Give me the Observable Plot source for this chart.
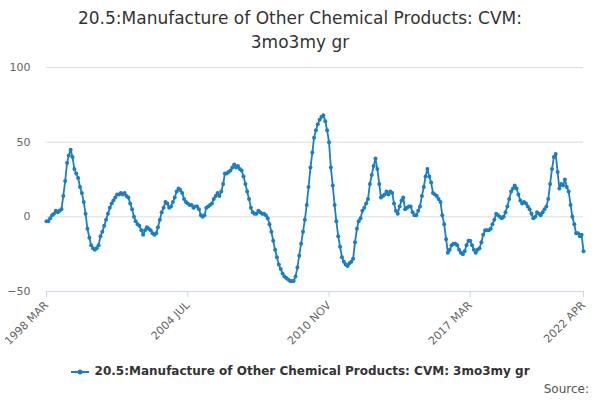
<!DOCTYPE html>
<html><head><meta charset="utf-8">
<script src="https://cdn.jsdelivr.net/npm/d3@7"></script>
<script src="https://cdn.jsdelivr.net/npm/@observablehq/plot@0.6"></script>
<style>
body{margin:0;width:600px;height:400px;position:relative;font-family:"DejaVu Sans",sans-serif;background:#fff;overflow:hidden}
#title{position:absolute;top:6px;left:0;width:600px;text-align:center;font-size:17px;line-height:24px;color:#333}
#chart{position:absolute;top:55px;left:0}
#legend{position:absolute;top:364px;left:0;width:600px;text-align:center;font-size:12px;font-weight:bold;color:#333}
#source{position:absolute;top:382px;right:11px;font-size:12px;color:#555}
</style></head><body>
<div id="title">20.5:Manufacture of Other Chemical Products: CVM:<br>3mo3my gr</div>
<div id="chart"></div>
<div id="legend"><svg width="20" height="10" style="vertical-align:middle"><line x1="1" x2="19" y1="5" y2="5" stroke="#1a7ec0" stroke-width="2"/><circle cx="10" cy="5" r="2.5" fill="#1a7ec0"/></svg> 20.5:Manufacture of Other Chemical Products: CVM: 3mo3my gr</div>
<div id="source">Source:</div>
<script>
const startYear = 1998, startMonth = 2; // March (0-based)
const values = [
-3,-3,-1,1,2,4,3,4,5,14,24,36,
41,45,40,32,29,26,20,16,10,2,-8,-14,
-19,-21,-22,-21,-19,-13,-10,-6,-2,2,6,9,
11,13,15,15,16,15,16,14,13,9,5,0,
-3,-5,-6,-9,-12,-9,-7,-8,-9,-11,-12,-11,
-7,-2,3,6,10,9,6,7,10,13,17,19,
18,16,12,10,9,8,8,6,7,7,5,1,
0,1,6,7,8,9,12,14,16,14,17,22,
29,29,30,31,33,35,33,34,32,31,27,22,
17,12,6,3,2,2,4,3,2,2,1,-1,
-5,-10,-16,-22,-27,-32,-35,-38,-40,-41,-42,-43,
-43,-43,-40,-34,-26,-18,-10,-2,8,20,33,43,
53,58,62,65,67,68,64,58,50,33,21,8,
-3,-13,-20,-27,-30,-32,-33,-31,-30,-28,-17,-8,
-3,-1,4,6,9,12,22,28,34,39,32,22,
13,14,15,17,15,17,16,9,4,2,7,11,
13,5,6,7,7,3,1,1,4,7,14,20,
27,32,27,23,16,15,14,12,10,1,-5,-15,
-24,-22,-19,-18,-18,-19,-22,-24,-25,-23,-19,-16,
-16,-19,-22,-24,-22,-21,-17,-12,-9,-9,-9,-8,
-5,-2,2,1,0,-1,0,3,7,12,17,19,
21,19,15,11,9,10,9,7,5,2,-1,0,
3,2,1,3,5,7,12,22,32,40,42,30,
19,22,21,25,20,17,8,0,-5,-11,-11,-13,-12,-23
];
const yTicks = [-50, 0, 50, 100];
const xTickLabels = ["1998 MAR", "2004 JUL", "2010 NOV", "2017 MAR", "2022 APR"];
const monthIdx = {JAN:0,FEB:1,MAR:2,APR:3,MAY:4,JUN:5,JUL:6,AUG:7,SEP:8,OCT:9,NOV:10,DEC:11};
const data = values.map((v,i)=>({date:new Date(Date.UTC(startYear, startMonth+i, 1)), value:v}));
const xTicks = xTickLabels.map(s=>{const [y,m]=s.split(" ");return new Date(Date.UTC(+y, monthIdx[m], 1));});
const fmt = d => xTickLabels[xTicks.findIndex(t=>+t===+d)];
const col = "#1a7ec0";
const chart = Plot.plot({
  width: 600, height: 291,
  marginTop: 12, marginLeft: 46, marginRight: 17, marginBottom: 55,
  style: {fontFamily: "DejaVu Sans, sans-serif", fontSize: "11px", color: "#666", overflow: "visible"},
  x: {type: "utc", domain: [data[0].date, data[data.length-1].date], label: null},
  y: {domain: [-50, 100], label: null},
  marks: [
    Plot.gridY(yTicks, {stroke: "#ddd", strokeOpacity: 1}),
    Plot.ruleY([-50], {stroke: "#ccd6eb"}),
    Plot.axisX({ticks: xTicks, tickFormat: fmt, tickRotate: -45, tickSize: 6, stroke: "#ccd6eb", fill: "#666"}),
    Plot.axisY({ticks: yTicks, tickSize: 0, tickPadding: 16, fill: "#666"}),
    Plot.line(data, {x: "date", y: "value", stroke: col, strokeWidth: 1.8}),
    Plot.dot(data, {x: "date", y: "value", fill: col, r: 2})
  ]
});
document.getElementById("chart").appendChild(chart);
</script>
</body></html>
